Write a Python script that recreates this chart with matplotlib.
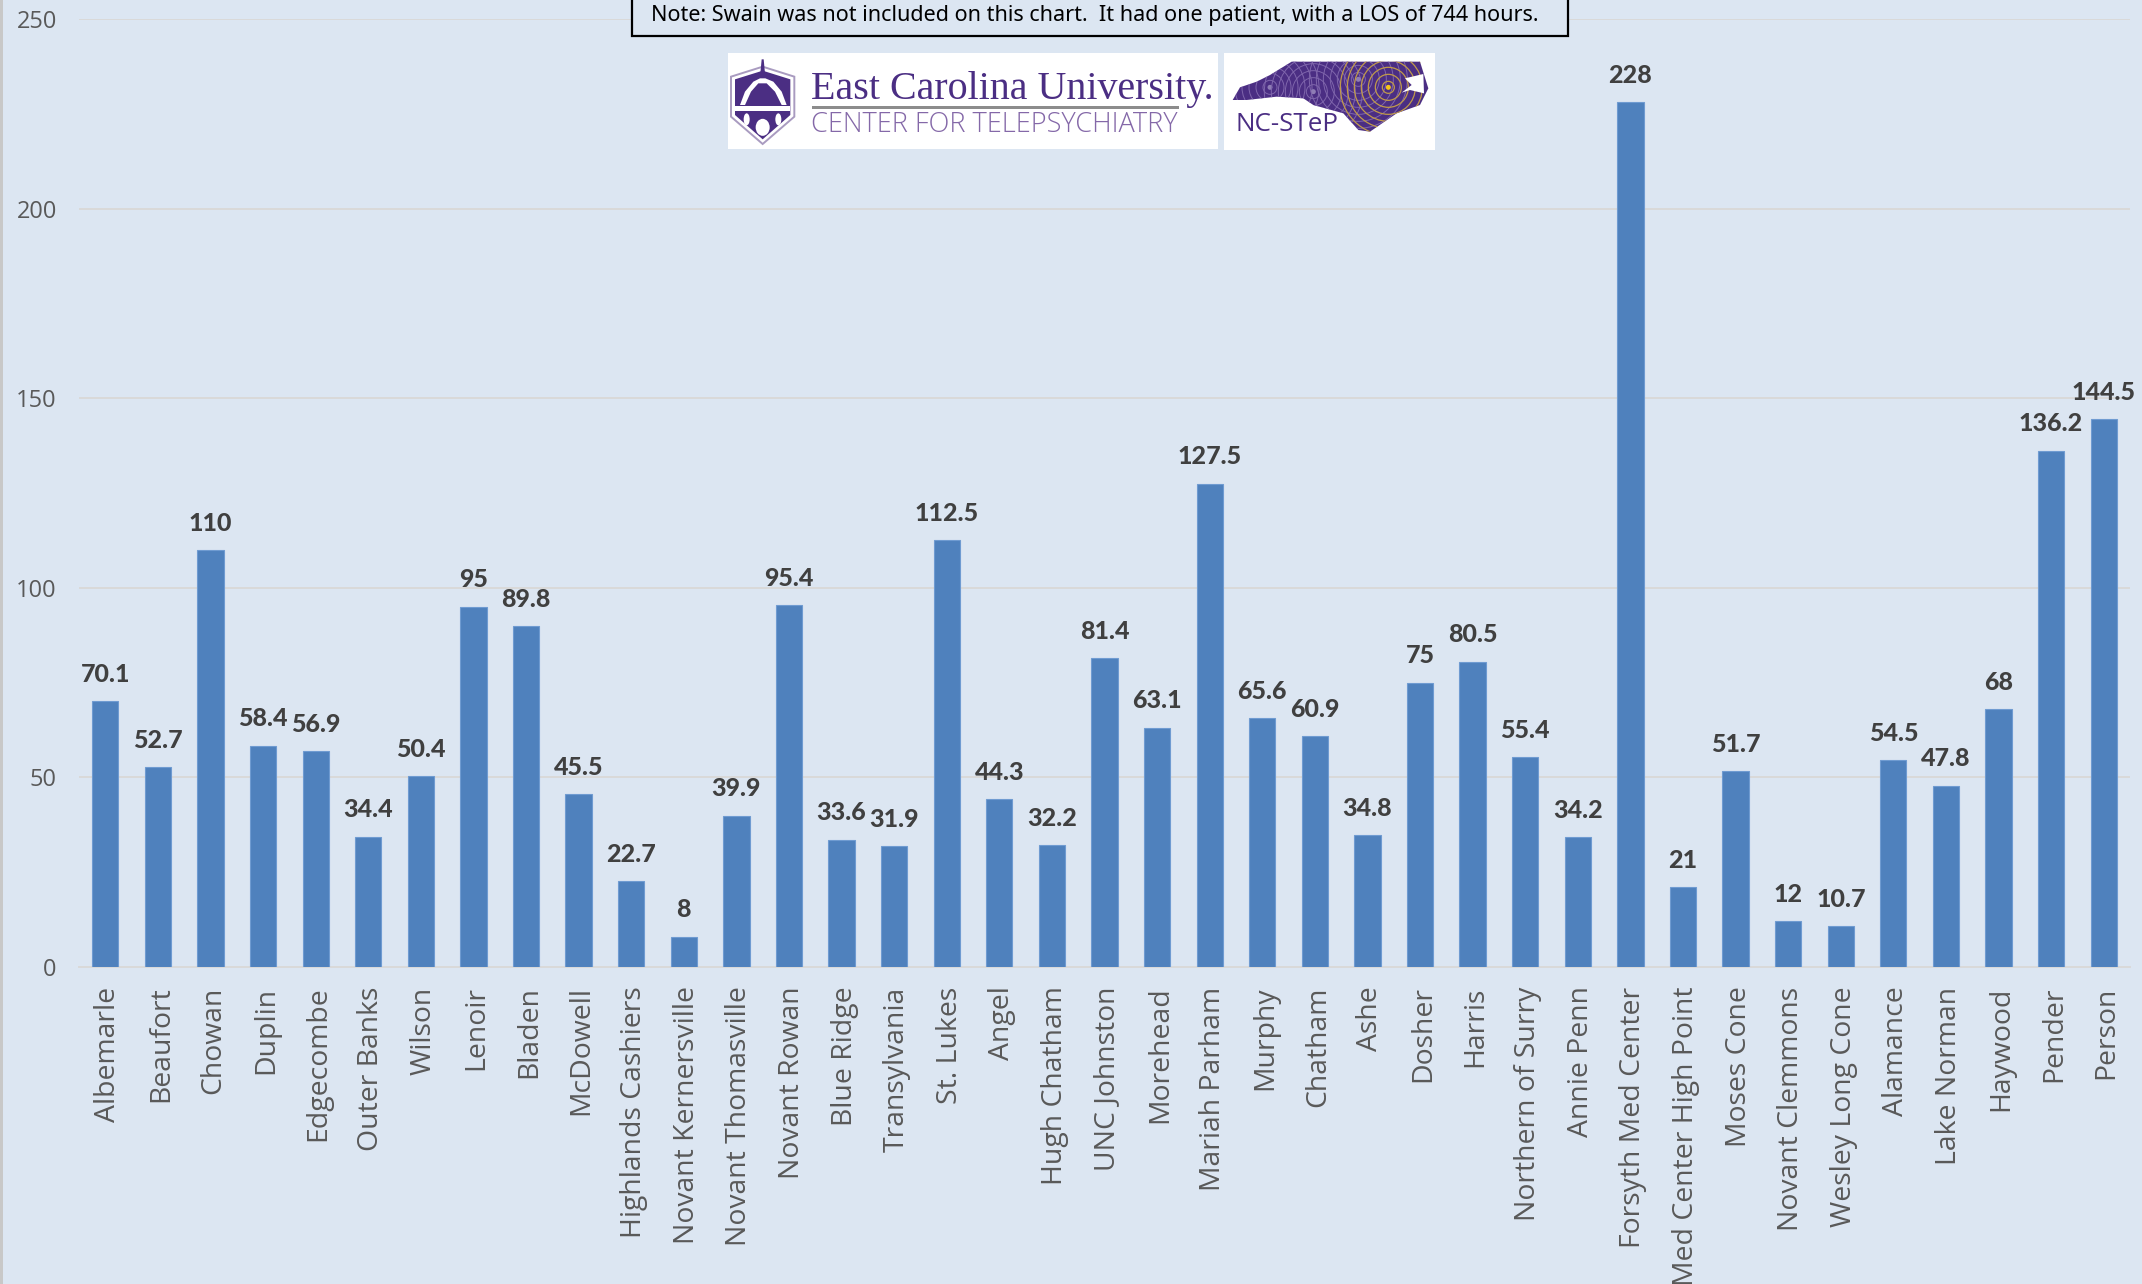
import matplotlib
matplotlib.use("Agg")
import matplotlib.pyplot as plt
from matplotlib.patches import Circle, Ellipse, Polygon, Rectangle
from matplotlib.transforms import ScaledTranslation

W, H = 2142, 1284

categories = [
    "Albemarle", "Beaufort", "Chowan", "Duplin", "Edgecombe", "Outer Banks",
    "Wilson", "Lenoir", "Bladen", "McDowell", "Highlands Cashiers",
    "Novant Kernersville", "Novant Thomasville", "Novant Rowan", "Blue Ridge",
    "Transylvania", "St. Lukes", "Angel", "Hugh Chatham", "UNC Johnston",
    "Morehead", "Mariah Parham", "Murphy", "Chatham", "Ashe", "Dosher",
    "Harris", "Northern of Surry", "Annie Penn", "Forsyth Med Center",
    "Med Center High Point", "Moses Cone", "Novant Clemmons",
    "Wesley Long Cone", "Alamance", "Lake Norman", "Haywood", "Pender", "Person",
]
los_hours = [
    70.1, 52.7, 110, 58.4, 56.9, 34.4, 50.4, 95, 89.8, 45.5, 22.7, 8, 39.9,
    95.4, 33.6, 31.9, 112.5, 44.3, 32.2, 81.4, 63.1, 127.5, 65.6, 60.9, 34.8,
    75, 80.5, 55.4, 34.2, 228, 21, 51.7, 12, 10.7, 54.5, 47.8, 68, 136.2, 144.5,
]
y_ticks = [0, 50, 100, 150, 200, 250]
note = "Note: Swain was not included on this chart.  It had one patient, with a LOS of 744 hours."

BG = "#DCE6F2"
BAR = "#4F81BD"
PURPLE = "#4B2E83"
LIGHT_PURPLE = "#8468A8"

fig = plt.figure(figsize=(W / 100, H / 100), dpi=100, facecolor=BG)

# chart area, placed in pixels
left, right, top, bottom = 79, 2130, 19, 967
ax = fig.add_axes([left / W, 1 - bottom / H, (right - left) / W, (bottom - top) / H])
ax.set_facecolor(BG)
ax.bar(range(len(categories)), los_hours, width=0.5, color=BAR,
       edgecolor="#6F9BD1", linewidth=0.8, zorder=3)
ax.set_xlim(-0.5, len(categories) - 0.5)
ax.set_ylim(0, 250)
ax.set_yticks(y_ticks)
ax.set_xticks(range(len(categories)))
ax.set_xticklabels(categories, rotation=90, family="Open Sans", fontsize=20.4, color="#595959")
ax.tick_params(axis="x", length=0, pad=14)
ax.tick_params(axis="y", length=0, pad=16)
shift = ScaledTranslation(3 / 100, 0, fig.dpi_scale_trans)
for lab in ax.get_xticklabels():
    lab.set_transform(lab.get_transform() + shift)
for lab in ax.get_yticklabels():
    lab.set_family("Open Sans")
    lab.set_fontsize(17)
    lab.set_color("#595959")
ax.grid(axis="y", color="#D9D9D9", linewidth=1.4, zorder=0)
ax.set_axisbelow(True)
for side in ["top", "right", "left"]:
    ax.spines[side].set_visible(False)
ax.spines["bottom"].set_color("#D9D9D9")
ax.spines["bottom"].set_linewidth(1.4)

for i, v in enumerate(los_hours):
    ax.annotate(f"{v:g}", (i, v), xytext=(0, 11), textcoords="offset points",
                ha="center", va="bottom", family="Lato", fontweight=900,
                fontsize=18, color="#404040", zorder=5, annotation_clip=False)

# overlay in pixel coordinates for note box and logos
ov = fig.add_axes([0, 0, 1, 1], zorder=10)
ov.set_xlim(0, W)
ov.set_ylim(H, 0)
ov.axis("off")
ov.patch.set_alpha(0)

ov.add_patch(Rectangle((0, 0), 3, H, facecolor="#C8C8C8", edgecolor="none"))
ov.add_patch(Rectangle((632, -5), 936, 41, facecolor=BG, edgecolor="black", linewidth=1.6))
ov.text(651, 16, note, family="Noto Sans", fontsize=15.56, color="black", va="center", ha="left")


def ecu(points):
    # crop coordinates of the ECU logo to pixels
    return [(725 + x / 3, 50 + y / 3) for x, y in points]


def step(points):
    # crop coordinates of the NC-STeP logo to pixels
    return [(1220 + x / 3, 50 + y / 3) for x, y in points]


# ECU logo
ov.add_patch(Rectangle((728, 53), 490, 96, facecolor="white", edgecolor="none"))
ov.add_patch(Polygon(ecu([(18, 80), (113, 50), (208, 80), (208, 200), (113, 282), (18, 200)]),
                     closed=True, facecolor="white", edgecolor="#A99BC0", linewidth=1.4))
ov.add_patch(Polygon(ecu([(30, 88), (113, 62), (196, 88), (196, 195), (113, 268), (30, 195)]),
                     closed=True, facecolor=PURPLE, edgecolor="none"))
ov.add_patch(Polygon(ecu([(45, 165), (60, 125), (85, 95), (105, 85), (121, 85), (145, 95),
                          (170, 125), (185, 165), (170, 165), (150, 125), (125, 100),
                          (100, 100), (78, 125), (60, 165)]),
                     closed=True, facecolor="white", edgecolor="none"))
ov.add_patch(Polygon(ecu([(110, 28), (116, 28), (120, 70), (106, 70)]),
                     closed=True, facecolor=PURPLE, edgecolor="none"))
ov.add_patch(Polygon(ecu([(30, 168), (196, 168), (196, 182), (30, 182)]),
                     closed=True, facecolor="white", edgecolor="none"))
ov.add_patch(Ellipse(ecu([(113, 232)])[0], 14, 17, facecolor="white", edgecolor="none"))
for px in (65, 160):
    ov.add_patch(Ellipse(ecu([(px, 208)])[0], 6, 12, facecolor="white", edgecolor="none"))
ov.text(811, 99, "East Carolina University.", family="Liberation Serif", fontsize=28.8,
        color=PURPLE, va="baseline", ha="left")
ov.add_patch(Rectangle((812, 106), 367, 2.5, facecolor="#8C8C8C", edgecolor="none"))
ov.text(811, 132, "CENTER FOR TELEPSYCHIATRY", family="Open Sans", fontsize=19.5,
        fontweight="light", color=LIGHT_PURPLE, va="baseline", ha="left")

# NC-STeP logo
ov.add_patch(Rectangle((1224, 53), 211, 97, facecolor="white", edgecolor="none"))
nc = Polygon(step([(38, 150), (60, 112), (110, 95), (150, 75), (215, 35), (600, 35), (625, 115),
                   (600, 165), (530, 190), (450, 245), (415, 240), (370, 190), (280, 165),
                   (250, 145), (170, 140), (80, 150)]),
             closed=True, facecolor=PURPLE, edgecolor="none")
ov.add_patch(nc)
for cx, cy in [(150, 112), (280, 125), (415, 88)]:
    centre = step([(cx, cy)])[0]
    for r in range(7, 50, 7):
        c = Circle(centre, r, facecolor="none", edgecolor="#7F66AC", linewidth=0.7)
        ov.add_patch(c)
        c.set_clip_path(nc)
    ov.add_patch(Circle(centre, 2.5, facecolor="#8F7DB5", edgecolor="none"))
orange_centre = step([(505, 112)])[0]
for r in range(6, 50, 7):
    c = Circle(orange_centre, r, facecolor="none", edgecolor="#C09A4A", linewidth=0.9)
    ov.add_patch(c)
    c.set_clip_path(nc)
ov.add_patch(Circle(orange_centre, 2.5, facecolor="#F5C518", edgecolor="none"))
ov.add_patch(Polygon(step([(555, 85), (610, 72), (612, 130), (570, 120), (545, 128), (575, 105)]),
                     closed=True, facecolor="white", edgecolor="none"))
ov.text(1235, 131, "NC-STeP", family="Open Sans", fontsize=18.7, color=PURPLE,
        va="baseline", ha="left")

fig.savefig("out.png", dpi=100, facecolor=BG)
